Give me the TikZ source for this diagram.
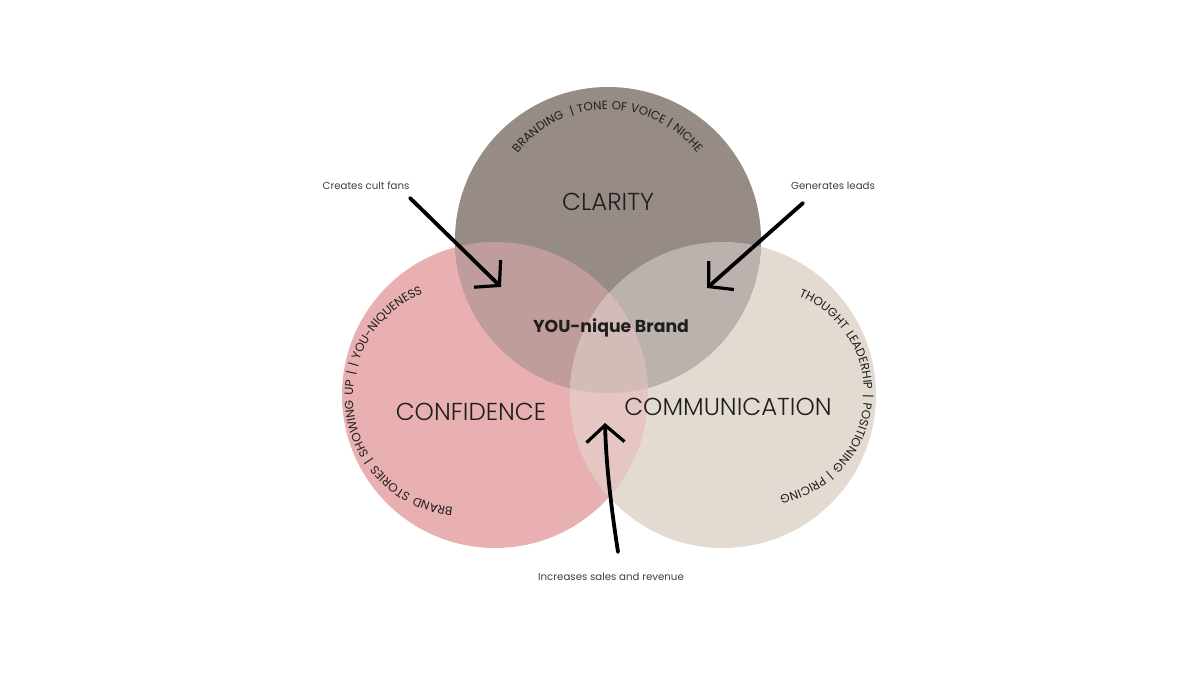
\documentclass[tikz,border=0pt]{standalone}
\usepackage{fontspec}
\setmainfont{Poppins}
\IfFontExistsTF{Poppins Light}{\newfontfamily\lightfont{Poppins Light}}{\newfontfamily\lightfont{Poppins}}
\newfontfamily\arcfamA{Poppins}[LetterSpace=4]
\newfontfamily\arcfamB{Poppins}[LetterSpace=18,WordSpace=0.85]
\usetikzlibrary{arrows.meta,decorations.text}
\definecolor{clarc}{HTML}{978B86}
\definecolor{confc}{HTML}{E8B0B0}
\definecolor{commc}{HTML}{E3DAD2}
\definecolor{clconf}{HTML}{BF9D9D}
\definecolor{clcomm}{HTML}{BCB2AD}
\definecolor{cocomm}{HTML}{E6C6C2}
\definecolor{triple}{HTML}{D3BCB8}
\definecolor{ink}{HTML}{1E1E1E}
\newcommand\arcfontA{\arcfamA\fontsize{11.8}{12}\selectfont}
\newcommand\arcfontB{\arcfamB\fontsize{12}{12}\selectfont}
\tikzset{
  venn/.style={circle, inner sep=0pt, minimum size=306pt},
  biglabel/.style={font=\lightfont\fontsize{24.5}{26}\selectfont, text=ink},
  smalllabel/.style={font=\fontsize{10.2}{12}\selectfont, text=ink!85},
  hand/.style={line width=3.8pt, line cap=round, black, -{Straight Barb[length=17pt,width=38pt,line width=3.2pt]}},
  arctext/.style={decorate, decoration={text along path, text format delimiters={[}{]}, text align=center, text color=ink, text={#1}}}
}
\begin{document}
\begin{tikzpicture}[x=1pt,y=1pt]
\useasboundingbox (0,0) rectangle (1200,675);
% circles
\node[venn, fill=confc] (conf) at (495,280) {};
\node[venn, fill=commc] (comm) at (723,280) {};
\node[venn, fill=clarc] (clar) at (608,435) {};
% overlaps
\begin{scope}
  \clip (608,435) circle (153);
  \fill[clconf] (495,280) circle (153);
  \fill[clcomm] (723,280) circle (153);
\end{scope}
\begin{scope}
  \clip (495,280) circle (153);
  \clip (723,280) circle (153);
  \fill[cocomm] (0,0) rectangle (1200,675);
\end{scope}
\begin{scope}
  \clip (495,280) circle (153);
  \clip (723,280) circle (153);
  \clip (608,435) circle (153);
  \fill[triple] (0,0) rectangle (1200,675);
\end{scope}
% curved texts
\path[arctext={[\arcfontA]BRANDING \ | TONE OF VOICE | NICHE}]
  (607.5,451.5) ++(175:114) arc[start angle=175, end angle=5, radius=114];
\path[arctext={[\arcfontB]BRAND STORIES | SHOWING UP | | YOU-NIQUENESS}]
  (464,278) ++(295:111) arc[start angle=295, end angle=81, radius=111];
\path[arctext={[\arcfontB]THOUGHT LEADERHIP | POSITIONING | PRICING}]
  (760,282) ++(95:104) arc[start angle=95, end angle=-106, radius=104];
% labels
\node[biglabel] (lclar) at (608,473) {CLARITY};
\node[biglabel] (lconf) at (471,263) {CONFIDENCE};
\node[biglabel] (lcomm) at (728,268) {COMMUNICATION};
\node[font=\fontsize{17.3}{19}\bfseries\selectfont, text=ink] (brand) at (611,347) {YOU-nique Brand};
\node[smalllabel] (fans) at (366,489) {Creates cult fans};
\node[smalllabel] (leads) at (833,489) {Generates leads};
\node[smalllabel] (sales) at (611,98) {Increases sales and revenue};
% arrows
\coordinate (t1) at (410,477);
\coordinate (h1) at (501,388);
\coordinate (t2) at (803,472);
\coordinate (h2) at (707,387);
\coordinate (t3) at (618,123);
\coordinate (h3) at (605,252);
\draw[hand] (t1) -- (h1);
\draw[hand] (t2) -- (h2);
\draw[hand] (t3) .. controls (610,175) and (606,215) .. (h3);
\end{tikzpicture}
\end{document}
